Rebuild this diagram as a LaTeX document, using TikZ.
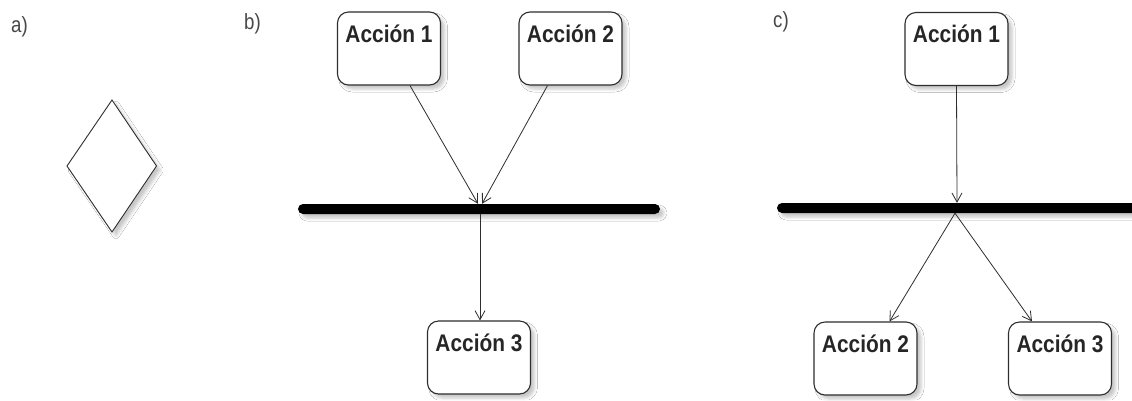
\documentclass[tikz,border=0pt]{standalone}
\usepackage{fontspec}
\usetikzlibrary{arrows.meta,shadows.blur}
\newfontfamily\boxfont[FakeStretch=0.87]{Liberation Sans}
\newfontfamily\tagfont[FakeStretch=0.85]{Liberation Sans}
\definecolor{ink}{HTML}{2E2E2E}
\tikzset{
  soft/.style={blur shadow={shadow xshift=4pt, shadow yshift=-4pt,
      shadow blur radius=3pt, shadow opacity=22}},
  actbox/.style={draw=ink, line width=1.1pt, rounded corners=11pt, fill=white,
      minimum width=103pt, minimum height=73pt, inner sep=0pt, soft},
  acttext/.style={font=\boxfont\bfseries\fontsize{24}{28}\selectfont,
      text=black!85, anchor=north, inner sep=0pt, yshift=-13pt},
  syncbar/.style={fill=black, rounded corners=5pt, minimum height=10pt,
      inner sep=0pt, soft},
  flow/.style={draw=ink, line width=0.8pt,
      -{Straight Barb[length=9pt,width=10pt,line width=0.8pt]}},
  tag/.style={font=\tagfont\fontsize{22}{26}\selectfont, text=black!72,
      inner sep=0pt, anchor=base west}
}
\begin{document}
\begin{tikzpicture}[x=1pt,y=-1pt]
\useasboundingbox (0,0) rectangle (1132,400);
\clip (0,0) rectangle (1132,400);
\fill[white] (0,0) rectangle (1132,400);

% a) decision diamond
\node[tag] (ta) at (11,32) {a)};
\draw[ink, line width=0.9pt, fill=white, soft]
  (112,100) -- (156.5,166) -- (112,232) -- (67,166) -- cycle;

% b) join bar
\node[tag] (tb) at (244,29) {b)};
\node[actbox, label={[acttext]north:Acción 1}] (b1) at (389,48.5) {};
\node[actbox, label={[acttext]north:Acción 2}] (b2) at (570.5,48.5) {};
\node[syncbar, minimum width=362pt] (joinb) at (479,209) {};
\node[actbox, label={[acttext]north:Acción 3}] (b3) at (479,357.5) {};
\draw[flow] ([xshift=21pt]b1.south) -- ([xshift=-1pt]joinb.north);
\draw[flow] ([xshift=-23pt]b2.south) -- ([xshift=3pt]joinb.north);
\draw[flow] ([xshift=1pt]joinb.south) -- ([xshift=1pt]b3.north);

% c) fork bar
\node[tag] (tc) at (773,27) {c)};
\node[actbox, label={[acttext]north:Acción 1}] (c1) at (956.5,49) {};
\node[syncbar, minimum width=362pt] (forkc) at (958,208) {};
\node[actbox, label={[acttext]north:Acción 2}] (c2) at (865.5,358.5) {};
\node[actbox, label={[acttext]north:Acción 3}] (c3) at (1060,358.5) {};
\draw[flow] (c1.south) -- ([xshift=-1pt]forkc.north);
\draw[flow] ([xshift=-3pt]forkc.south) -- ([xshift=24pt]c2.north);
\draw[flow] ([xshift=-3pt]forkc.south) -- ([xshift=-28pt]c3.north);
\end{tikzpicture}
\end{document}
